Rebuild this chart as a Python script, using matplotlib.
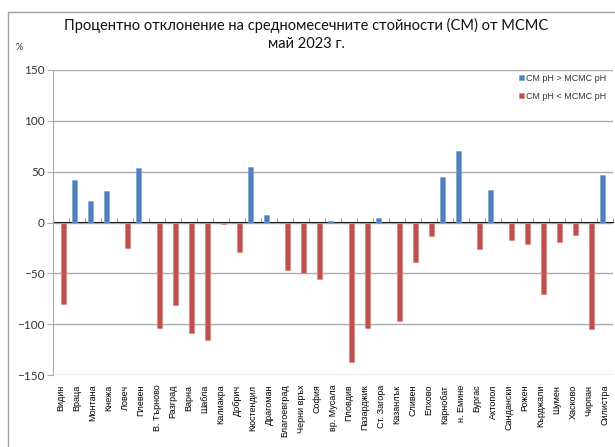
import numpy as np
import matplotlib.pyplot as plt
from matplotlib.patches import Rectangle

# станции и отклонение на СМ от МСМС, %
stations = ["Видин", "Враца", "Монтана", "Кнежа", "Ловеч", "Плевен", "В. Търново",
            "Разград", "Варна", "Шабла", "Калиакра", "Добрич", "Кюстендил", "Драгоман",
            "Благоевград", "Черни връх", "София", "вр. Мусала", "Пловдив", "Пазарджик",
            "Ст. Загора", "Казанлък", "Сливен", "Елхово", "Карнобат", "н. Емине",
            "Бургас", "Ахтопол", "Сандански", "Рожен", "Кърджали", "Шумен", "Хасково",
            "Чирпан", "Силистра"]

above = [0, 42, 21.5, 31, 0, 54, 0, 0, 0, 0, 0, 0, 54.5, 7, 0, 0, 0, 1.3, 0, 0,
         4, 0, 0, 0, 44.5, 70.5, 0, 32, 0, 0, 0, 0, 0, 0, 47]
below = [-80, 0, 0, 0, -25.5, 0, -104, -81, -109, -116, -1.5, -29.5, 0, 0, -47, -50,
         -56, 0, -137, -104, 0, -97, -38.5, -13, 0, 0, -26.5, 0, -17, -21, -70, -19.5,
         -12.5, -105, 0]

blue = "#4F81BD"
red = "#C0504D"
grid_c = "#ABABAB"

fig = plt.figure(figsize=(6.15, 4.47), dpi=100)

# рамка на диаграмата
fig.patches.append(Rectangle((8 / 615, -0.1), 1.2, 1 - 12 / 447 + 0.1,
                             transform=fig.transFigure, fill=False,
                             edgecolor="#A0A0A0", linewidth=1))

ax = fig.add_axes([53 / 615, 1 - 375 / 447, 560 / 615, 305 / 447])

x = np.arange(len(stations))
w = 0.31
ax.bar(x - w / 2, above, w, color=blue, edgecolor="#7FA3D0", linewidth=0.5,
       label="СМ pH > МСМС pH", zorder=3)
ax.bar(x + w / 2, below, w, color=red, edgecolor="#D88583", linewidth=0.5,
       label="СМ pH < МСМС pH", zorder=3)

ax.set_xlim(-0.5, len(stations) - 0.5)
ax.set_ylim(-150, 150)
ax.set_yticks(range(-150, 151, 50))
ax.yaxis.grid(True, color=grid_c, linewidth=1)
ax.set_axisbelow(True)

for s in ["top", "right", "bottom"]:
    ax.spines[s].set_visible(False)
ax.spines["left"].set_color(grid_c)
ax.tick_params(axis="y", direction="out", length=4, color=grid_c,
               labelsize=8.5, labelcolor="#333333", pad=2)

ax.set_xticks(x)
ax.set_xticklabels(stations, rotation=90, fontsize=6.5, family="Liberation Sans")
ax.tick_params(axis="x", length=0, pad=7)
for lab in ax.get_yticklabels():
    lab.set_family("Lato")

# нулева ос с деления между станциите
zero = ax.secondary_xaxis(0.5)
zero.set_xticks(np.arange(len(stations) + 1) - 0.5)
zero.set_xticklabels([])
zero.tick_params(direction="out", length=3, color=grid_c)
zero.spines["bottom"].set_color(grid_c)

leg = ax.legend(loc="upper left", bbox_to_anchor=(511 / 615, 1 - 66 / 447),
                bbox_transform=fig.transFigure, frameon=False,
                handlelength=0.5, handleheight=0.5, handletextpad=0.3,
                labelspacing=0.95, prop={"family": "Liberation Sans", "size": 6.5})
for t in leg.get_texts():
    t.set_color("#333333")

fig.text(306 / 615, 1 - 34.5 / 447,
         "Процентно отклонение на средномесечните стойности (СМ) от МСМС\nмай 2023 г.",
         ha="center", va="center", fontsize=10.5, family="Lato",
         linespacing=1.3, color="#111111")
fig.text(16 / 615, 1 - 47 / 447, "%", fontsize=6.5, family="Lato", color="#333333",
         va="center")

fig.savefig("out.png", dpi=100)
